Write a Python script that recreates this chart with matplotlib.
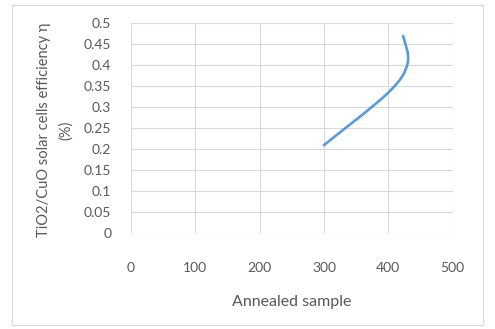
import numpy as np
import matplotlib
matplotlib.use("Agg")
from matplotlib import pyplot as plt
from matplotlib.path import Path
from matplotlib.patches import PathPatch, Rectangle

# valores
annealed = [300, 400, 430, 423]
efficiency = [0.21, 0.335, 0.405, 0.47]

x_ticks = [0, 100, 200, 300, 400, 500]
y_ticks = [0, 0.05, 0.1, 0.15, 0.2, 0.25, 0.3, 0.35, 0.4, 0.45, 0.5]
y_tick_labels = ["0", "0.05", "0.1", "0.15", "0.2", "0.25", "0.3", "0.35",
                 "0.4", "0.45", "0.5"]

plt.rcParams['font.family'] = ['Lato', 'DejaVu Sans']
gray = "#595959"
grid = "#D9D9D9"
blue = "#5B9BD5"

W, H = 495, 329
fig = plt.figure(figsize=(W / 100, H / 100), dpi=100)
left, right, top, bottom = 130.7, 452.7, 23.3, 233.3
ax = fig.add_axes([left / W, 1 - bottom / H, (right - left) / W,
                   (bottom - top) / H])

# moldura externa
fig.patches.append(Rectangle((12 / W, 1 - 325 / H), 471 / W, 320 / H,
                             transform=fig.transFigure, fill=False,
                             edgecolor=grid, linewidth=0.8))

ax.set_xlim(0, 500)
ax.set_ylim(0, 0.5)


def smooth_path(xs, ys, sx, sy):
    """curva suavizada estilo Excel (Catmull-Rom -> Bezier)"""
    p = np.column_stack([np.asarray(xs) * sx, np.asarray(ys) * sy])
    n = len(p)
    verts = [p[0]]
    codes = [Path.MOVETO]
    for i in range(n - 1):
        p0 = p[max(i - 1, 0)]
        p1 = p[i]
        p2 = p[i + 1]
        p3 = p[min(i + 2, n - 1)]
        c1 = p1 + (p2 - p0) / 6
        c2 = p2 - (p3 - p1) / 6
        verts += [c1, c2, p2]
        codes += [Path.CURVE4] * 3
    verts = np.array(verts) / [sx, sy]
    return Path(verts, codes)


path = smooth_path(annealed, efficiency, (right - left) / 500,
                   (bottom - top) / 0.5)
ax.add_patch(PathPatch(path, facecolor='none', edgecolor=blue,
                       linewidth=1.9, capstyle='round'))

ax.set_xticks(x_ticks)
ax.set_yticks(y_ticks)
ax.set_yticklabels(y_tick_labels)
ax.grid(True, color=grid, linewidth=0.8)
ax.set_axisbelow(True)
for s in ax.spines.values():
    s.set_visible(False)
ax.tick_params(length=0, labelsize=10, labelcolor=gray)
ax.tick_params(axis='x', pad=21)
ax.tick_params(axis='y', pad=14)

fig.text(292 / W, 1 - 302 / H, "Annealed sample", ha='center',
         va='center', fontsize=11.5, color=gray)
fig.text(55 / W, 1 - 130 / H, "TiO2/CuO solar cells efficiency η\n(%)",
         ha='center', va='center', rotation=90, multialignment='center',
         fontsize=10.5, color=gray, linespacing=1.75)

fig.savefig("out.png", dpi=100)
